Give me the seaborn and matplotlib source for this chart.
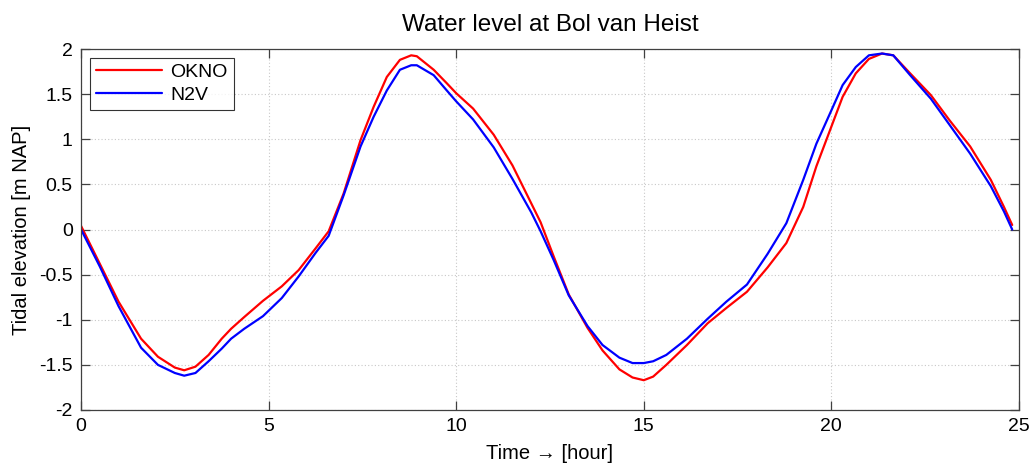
import numpy as np
import pandas as pd
import matplotlib
matplotlib.use("Agg")
import matplotlib.pyplot as plt
import seaborn as sns

time = [0.0, 0.5, 1.0, 1.6, 2.05, 2.5, 2.75, 3.05, 3.4, 3.75, 4.0, 4.35, 4.85,
        5.35, 5.8, 6.25, 6.6, 7.0, 7.45, 7.8, 8.15, 8.5, 8.8, 8.95, 9.4, 9.75,
        10.0, 10.45, 11.0, 11.5, 12.0, 12.25, 12.6, 13.0, 13.5, 13.9, 14.35,
        14.7, 15.0, 15.25, 15.6, 16.15, 16.7, 17.2, 17.75, 18.3, 18.8, 19.25,
        19.6, 20.0, 20.3, 20.65, 21.0, 21.35, 21.65, 22.1, 22.65, 23.15, 23.7,
        24.25, 24.6, 24.82]

okno = [0.04, -0.38, -0.80, -1.21, -1.41, -1.53, -1.56, -1.52, -1.39, -1.21,
        -1.10, -0.97, -0.79, -0.63, -0.45, -0.21, -0.02, 0.40, 0.99, 1.36,
        1.69, 1.88, 1.93, 1.92, 1.77, 1.62, 1.51, 1.34, 1.05, 0.71, 0.29, 0.08,
        -0.30, -0.72, -1.09, -1.34, -1.55, -1.64, -1.67, -1.63, -1.50, -1.28,
        -1.04, -0.87, -0.69, -0.42, -0.15, 0.25, 0.70, 1.14, 1.47, 1.73, 1.89,
        1.95, 1.93, 1.73, 1.49, 1.21, 0.92, 0.55, 0.25, 0.05]

n2v = [0.0, -0.41, -0.85, -1.31, -1.50, -1.59, -1.62, -1.59, -1.46, -1.32,
       -1.21, -1.10, -0.96, -0.76, -0.52, -0.26, -0.07, 0.38, 0.92, 1.25, 1.54,
       1.77, 1.82, 1.82, 1.71, 1.54, 1.42, 1.22, 0.91, 0.56, 0.19, -0.02,
       -0.34, -0.73, -1.07, -1.28, -1.42, -1.48, -1.48, -1.46, -1.39, -1.21,
       -0.99, -0.80, -0.61, -0.27, 0.07, 0.55, 0.95, 1.32, 1.60, 1.80, 1.93,
       1.95, 1.93, 1.71, 1.45, 1.16, 0.84, 0.48, 0.20, 0.0]

series_names = ["OKNO", "N2V"]
series_colors = ["#ff0000", "#0000ff"]
xticks = [0, 5, 10, 15, 20, 25]
yticks = [-2, -1.5, -1, -0.5, 0, 0.5, 1, 1.5, 2]

df = pd.concat([
    pd.DataFrame({"time": time, "level": okno, "series": series_names[0]}),
    pd.DataFrame({"time": time, "level": n2v, "series": series_names[1]}),
])

sns.set_theme(style="white")
plt.rcParams["font.family"] = ["Liberation Sans", "DejaVu Sans"]
plt.rcParams["axes.unicode_minus"] = False
plt.rcParams["text.color"] = "black"
plt.rcParams["axes.labelcolor"] = "black"

fig = plt.figure(figsize=(10.35, 4.65), dpi=100)
ax = fig.add_axes([0.0783, 0.1183, 0.9062, 0.7763])

sns.lineplot(data=df, x="time", y="level", hue="series", hue_order=series_names,
             palette=series_colors, estimator=None, sort=False, linewidth=1.6,
             ax=ax)
for ln in ax.get_lines():
    ln.set_solid_joinstyle("round")
    ln.set_solid_capstyle("round")

ax.set_xlim(0, 25)
ax.set_ylim(-2, 2)
ax.set_xticks(xticks)
ax.set_yticks(yticks)
ax.set_xticklabels([str(v) for v in xticks])
ax.set_yticklabels([("%g" % v) for v in yticks])
ax.grid(True, linestyle=(0, (1, 2)), color="#c8c8c8", linewidth=0.8)
ax.tick_params(direction="in", length=6.5, width=0.9, colors="#404040",
               labelcolor="black", labelsize=14, top=True, right=True,
               bottom=True, left=True, pad=6)
for sp in ax.spines.values():
    sp.set_color("#404040")
    sp.set_linewidth(0.9)

ax.set_title("Water level at Bol van Heist", fontsize=17.5, pad=13,
             color="black")
ax.set_xlabel("Time \u2192 [hour]", fontsize=14.5, labelpad=6, color="black")
ax.set_ylabel("Tidal elevation [m NAP]", fontsize=14.5, labelpad=6,
              color="black")

leg = ax.legend(loc="upper left", fontsize=14, frameon=True, fancybox=False,
                edgecolor="black", handlelength=3.4, borderpad=0.3,
                labelspacing=0.25, borderaxespad=0.45, handletextpad=0.45)
leg.get_frame().set_linewidth(0.8)
for line in leg.get_lines():
    line.set_linewidth(1.6)
for txt in leg.get_texts():
    txt.set_color("black")

fig.savefig("out.png", dpi=100, facecolor="white")
